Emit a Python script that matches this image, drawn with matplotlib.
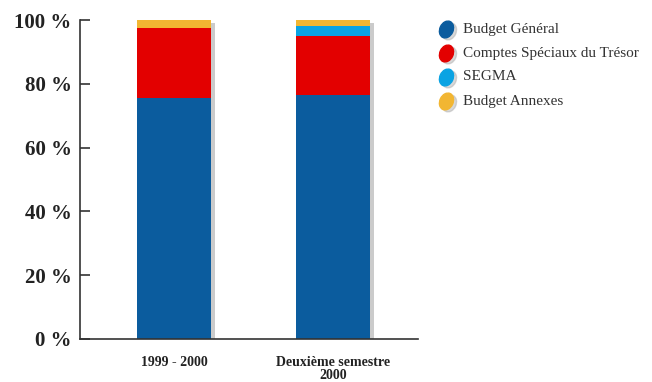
import matplotlib.pyplot as plt
import matplotlib.patheffects as pe
from matplotlib.markers import MarkerStyle
from matplotlib.transforms import Affine2D
import numpy as np

# Data (share of total, %)
periods = ["1999 - 2000", "Deuxième semestre\n2000"]
series = ["Budget Général", "Comptes Spéciaux du Trésor", "SEGMA", "Budget Annexes"]
budget_general = [75.5, 76.5]
comptes_speciaux = [22.0, 18.5]
segma = [0.0, 3.0]
budget_annexes = [2.5, 2.0]
colors = ["#0b5c9e", "#e30000", "#0aa3e3", "#f2b632"]

values = [budget_general, comptes_speciaux, segma, budget_annexes]

fig = plt.figure(figsize=(6.52, 3.82), dpi=100)
ax = fig.add_axes([80 / 652, 43 / 382, 338 / 652, 319 / 382])

x = np.arange(len(periods))
bottom = np.zeros(len(periods))
for vals, col in zip(values, colors):
    ax.bar(x, vals, width=0.46, bottom=bottom, color=col, linewidth=0)
    bottom += np.array(vals)
# soft shadow behind each whole stack
for xi, total in zip(x, bottom):
    ax.bar(xi, total, width=0.46, color="none", zorder=0,
           path_effects=[pe.SimplePatchShadow(offset=(3, -2), shadow_rgbFace="#999999", alpha=0.5)])

ax.set_xlim(-0.591, 1.535)
ax.set_ylim(0, 100)
ax.set_yticks(range(0, 101, 20))
ax.set_yticklabels([f"{v} %" for v in range(0, 101, 20)],
                   fontfamily="Liberation Serif", fontweight="bold", fontsize=15, color="#222222")
ax.set_xticks(x)
ax.set_xticklabels(periods, fontfamily="Liberation Serif", fontweight="bold",
                   fontsize=10, color="#222222", linespacing=1.05)
ax.tick_params(axis="y", direction="in", length=7, width=1.2, pad=6, color="#333333")
ax.tick_params(axis="x", length=0, pad=12)
for side in ["top", "right"]:
    ax.spines[side].set_visible(False)
for side in ["left", "bottom"]:
    ax.spines[side].set_color("#333333")
    ax.spines[side].set_linewidth(1.2)

# legend with tilted oval markers
oval = MarkerStyle("o", transform=Affine2D().scale(0.8, 1.05).rotate_deg(-25))
leg_y = [29, 53, 77, 101]
for name, col, yy in zip(series, colors, leg_y):
    fy = 1 - yy / 382
    fig.lines.append(plt.Line2D([449 / 652], [fy - 0.006], marker=oval, markersize=12,
                                color="#aaaaaa", alpha=0.45, transform=fig.transFigure))
    fig.lines.append(plt.Line2D([446 / 652], [fy], marker=oval, markersize=12,
                                markerfacecolor=col, markeredgecolor=col, transform=fig.transFigure))
    fig.text(463 / 652, fy, name, fontfamily="Liberation Serif", fontsize=11,
             color="#333333", va="center", ha="left")

fig.savefig("out.png", dpi=100)
